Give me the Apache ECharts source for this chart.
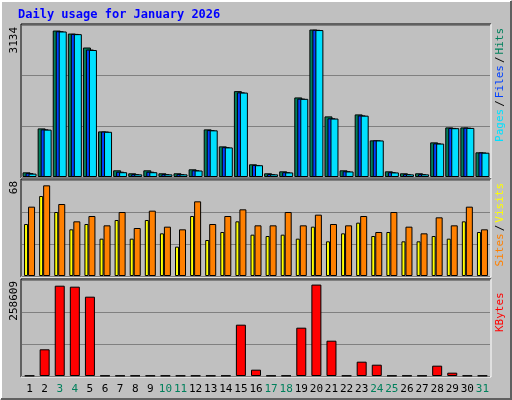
<!DOCTYPE html>
<html><head><meta charset="utf-8">
<script src="https://cdn.jsdelivr.net/npm/echarts@6/dist/echarts.min.js"></script>
<style>html,body{margin:0;padding:0;background:#c0c0c0}#c{width:512px;height:400px}</style>
</head><body><div id="c"></div>
<script>
const days = ['1','2','3','4','5','6','7','8','9','10','11','12','13','14','15','16','17','18','19','20','21','22','23','24','25','26','27','28','29','30','31'];
const weekend = ['3','4','10','11','17','18','24','25','31'];
const hits  = [97,1010,3045,2982,2692,948,139,77,139,77,77,160,990,637,1785,264,77,118,1654,3066,1260,139,1301,762,118,77,77,720,1031,1031,513];
const files = [80,990,3030,2975,2650,945,110,60,110,60,60,140,975,620,1760,250,60,100,1630,3060,1220,120,1280,762,100,60,60,700,1020,1025,510];
const pages = [70,985,3025,2970,2640,940,100,55,100,55,55,135,970,615,1755,245,55,95,1625,3055,1215,115,1275,760,95,55,55,695,1015,1020,505];
const visits = [52,68,54,41,45,38,48,36,49,37,35,56,39,45,50,38,38,48,38,46,39,38,45,33,48,37,32,44,38,52,35];
const sites  = [39,60,48,35,39,28,42,28,42,32,22,45,27,33,41,31,30,31,28,37,26,32,40,30,33,26,26,30,28,41,33];
const kbytes = [1200,75540,255500,252700,224400,1200,1200,1200,1200,1200,1200,1200,1200,1200,145200,17900,1200,1200,136700,258609,99900,1200,40500,32000,1200,1200,1200,29200,9400,1200,1200];
const maxLabels = ['3134','68','258609'];

const chart = echarts.init(document.getElementById('c'));
const grids = [
  {left:22,width:468,top:25,height:152},
  {left:22,width:468,top:180,height:96},
  {left:22,width:468,top:280,height:96}
];
const ax = (i, show) => ({type:'category', gridIndex:i, data:days,
  axisLine:{show:false}, axisTick:{show:false},
  axisLabel:{show:show, interval:0, margin:8, fontFamily:'DejaVu Sans Mono', fontSize:11,
    color:(v)=>weekend.includes(v)?'#00805c':'#000'}});
const ay = (i, max) => ({type:'value', gridIndex:i, min:0, max:max, interval:max/3,
  axisLabel:{show:false}, axisLine:{show:false}, axisTick:{show:false},
  splitLine:{lineStyle:{color:'#808080', width:1}}});
const bs = {borderColor:'#000', borderWidth:1};
const frame = (g) => ({type:'polyline', shape:{points:[[g.left-1,g.top+g.height+1],[g.left-1,g.top-1],[g.left+g.width+1,g.top-1]]}, style:{stroke:'#000',fill:null,lineWidth:1}});
const frame2 = (g) => ({type:'polyline', shape:{points:[[g.left+g.width+1,g.top-1],[g.left+g.width+1,g.top+g.height+1],[g.left-1,g.top+g.height+1]]}, style:{stroke:'#fff',fill:null,lineWidth:1}});
const vlab = (x, y, style) => ({type:'text', x:x, y:y, rotation:Math.PI/2,
  style:Object.assign({fontFamily:'DejaVu Sans Mono',fontSize:11,align:'right',verticalAlign:'middle'}, style)});
chart.setOption({
  animation:false,
  backgroundColor:'#c0c0c0',
  grid:grids,
  xAxis:[ax(0,false),ax(1,false),ax(2,true)],
  yAxis:[ay(0,3160),ay(1,72),ay(2,271600)],
  series:[
    {type:'bar',xAxisIndex:0,yAxisIndex:0,data:hits,barWidth:8,barGap:'-62.5%',itemStyle:Object.assign({color:'#00805c'},bs)},
    {type:'bar',xAxisIndex:0,yAxisIndex:0,data:files,barWidth:8,barGap:'-62.5%',itemStyle:Object.assign({color:'#0040ff'},bs)},
    {type:'bar',xAxisIndex:0,yAxisIndex:0,data:pages,barWidth:8,barGap:'-62.5%',itemStyle:Object.assign({color:'#00e0ff'},bs)},
    {type:'bar',xAxisIndex:1,yAxisIndex:1,data:sites,barWidth:4,barGap:'0%',itemStyle:Object.assign({color:'#ffff00'},bs)},
    {type:'bar',xAxisIndex:1,yAxisIndex:1,data:visits,barWidth:7,barGap:'0%',itemStyle:Object.assign({color:'#ff8000'},bs)},
    {type:'bar',xAxisIndex:2,yAxisIndex:2,data:kbytes,barWidth:10,itemStyle:Object.assign({color:'#ff0000'},bs)}
  ],
  graphic:[
    {type:'polyline',shape:{points:[[1,399],[1,1],[511,1]]},style:{stroke:'#fff',fill:null,lineWidth:2}},
    {type:'polyline',shape:{points:[[511,1],[511,399],[1,399]]},style:{stroke:'#606060',fill:null,lineWidth:2}},
    frame(grids[0]),frame2(grids[0]),frame(grids[1]),frame2(grids[1]),frame(grids[2]),frame2(grids[2]),
    {type:'text',x:18,y:9,style:{text:'Daily usage for January 2026',fill:'#0000ff',fontFamily:'DejaVu Sans Mono',fontSize:12,fontWeight:'bold'}},
    vlab(14,27,{text:maxLabels[0],fill:'#000'}),
    vlab(14,181,{text:maxLabels[1],fill:'#000'}),
    vlab(14,281,{text:maxLabels[2],fill:'#000'}),
    vlab(500,28,{text:'{p|Pages}{s|/}{f|Files}{s|/}{h|Hits}',rich:{h:{fill:'#00805c'},f:{fill:'#0040ff'},p:{fill:'#00e0ff'},s:{fill:'#000',padding:[0,2]}}}),
    vlab(500,183,{text:'{t|Sites}{s|/}{v|Visits}',rich:{v:{fill:'#ffff00'},t:{fill:'#ff8000'},s:{fill:'#000',padding:[0,2]}}}),
    vlab(500,332,{text:'KBytes',fill:'#ff0000',align:'left'})
  ]
});
</script></body></html>
